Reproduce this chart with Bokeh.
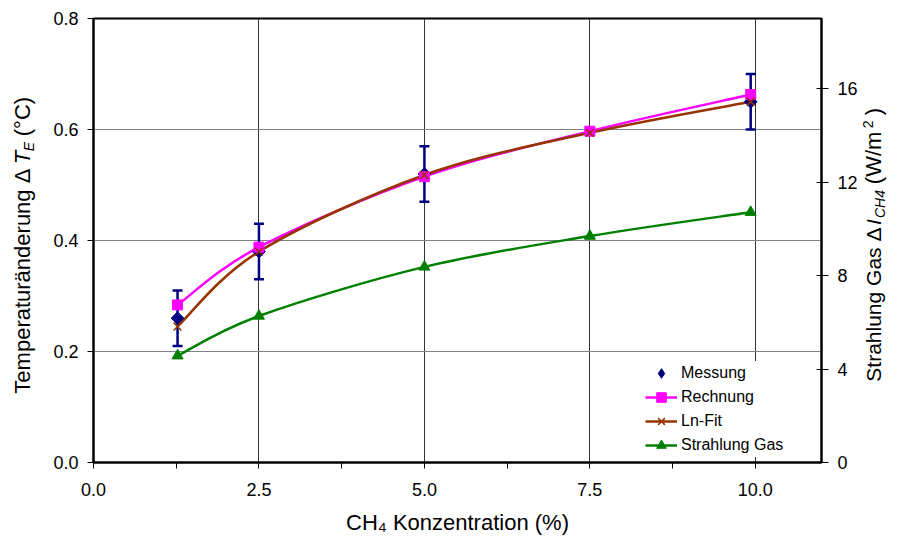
import numpy as np
from bokeh.plotting import figure
from bokeh.layouts import row
from bokeh.models import (Range1d, LinearAxis, FixedTicker, Whisker, TeeHead,
                          ColumnDataSource, Legend, LegendItem, Label,
                          NumeralTickFormatter)
from bokeh.embed import file_html
from bokeh.resources import INLINE

# ---------------- data ----------------
conc_messung = [1.27, 2.5, 5.0, 9.93]
dT_messung = [0.26, 0.38, 0.52, 0.65]
dT_err = [0.05, 0.05, 0.05, 0.05]

conc = [1.27, 2.5, 5.0, 7.5, 9.93]
dT_rechnung = [0.284, 0.388, 0.515, 0.597, 0.663]
dT_lnfit = [0.245, 0.380, 0.518, 0.594, 0.650]
strahlung_gas = [4.57, 6.27, 8.37, 9.69, 10.71]

x_ticks = [0.0, 2.5, 5.0, 7.5, 10.0]
x_minor = [1.25, 3.75, 6.25, 8.75]
y_ticks = [0.0, 0.2, 0.4, 0.6, 0.8]
y2_ticks = [0, 4, 8, 12, 16]

NAVY = "#000080"
MAGENTA = "#FF00FF"
BROWN = "#993300"
GREEN = "#008000"
FONT = "Liberation Sans"
H = 537
W_LEFT, W_MAIN, W_RIGHT = 50, 810, 35
FRAME_TOP, FRAME_BOTTOM = 18, 463


def smooth(xs, ys):
    """Cubic Bezier segments through the points (Excel-like smoothed line)."""
    n = len(xs)
    d = dict(x0=[], y0=[], x1=[], y1=[], cx0=[], cy0=[], cx1=[], cy1=[])
    for i in range(n - 1):
        im = i - 1 if i > 0 else i
        ip = i + 2 if i + 2 < n else i + 1
        d["x0"].append(xs[i]); d["y0"].append(ys[i])
        d["x1"].append(xs[i + 1]); d["y1"].append(ys[i + 1])
        d["cx0"].append(xs[i] + (xs[i + 1] - xs[im]) / 6.0)
        d["cy0"].append(ys[i] + (ys[i + 1] - ys[im]) / 6.0)
        d["cx1"].append(xs[i + 1] - (xs[ip] - xs[i]) / 6.0)
        d["cy1"].append(ys[i + 1] - (ys[ip] - ys[i]) / 6.0)
    return ColumnDataSource(d)


p = figure(width=W_MAIN, height=H,
           x_range=Range1d(0, 11), y_range=Range1d(0, 0.8),
           output_backend="svg", toolbar_location=None,
           min_border_left=41, min_border_right=37,
           min_border_top=FRAME_TOP, min_border_bottom=H - FRAME_BOTTOM)
p.extra_y_ranges = {"right": Range1d(0, 19)}

p.outline_line_color = "black"
p.outline_line_width = 2
p.background_fill_color = "white"
p.border_fill_color = "white"

# axes
xa = p.xaxis[0]
xa.ticker = FixedTicker(ticks=x_ticks, minor_ticks=x_minor)
xa.formatter = NumeralTickFormatter(format="0.0")
ya = p.yaxis[0]
ya.ticker = FixedTicker(ticks=y_ticks)
ya.formatter = NumeralTickFormatter(format="0.0")

ra = LinearAxis(y_range_name="right", ticker=FixedTicker(ticks=y2_ticks),
                formatter=NumeralTickFormatter(format="0"))
p.add_layout(ra, "right")

for ax in (xa, ya, ra):
    ax.axis_line_width = 2
    ax.axis_line_color = "black"
    ax.major_tick_line_color = "black"
    ax.major_tick_line_width = 1
    ax.major_label_text_font = FONT
    ax.major_label_text_font_size = "18px"
    ax.major_label_text_color = "black"
    ax.major_tick_in = 0
    ax.major_tick_out = 6

xa.minor_tick_line_color = "black"
xa.minor_tick_in = 0
xa.minor_tick_out = 6
xa.major_label_standoff = 14
xa.axis_label = "CH\u2084 Konzentration (%)"
xa.axis_label_text_font = FONT
xa.axis_label_text_font_size = "22px"
xa.axis_label_text_font_style = "normal"
xa.axis_label_text_color = "black"
xa.axis_label_standoff = 11
ya.minor_tick_line_color = None
ya.major_label_standoff = 9
ra.minor_tick_line_color = None
ra.major_tick_in = 5
ra.major_tick_out = 7
ra.major_label_standoff = 9

p.xgrid.grid_line_color = "#333333"
p.xgrid.grid_line_width = 1
p.ygrid.grid_line_color = "#808080"
p.ygrid.grid_line_width = 1

# error bars
src_m = ColumnDataSource(dict(
    x=conc_messung, y=dT_messung,
    upper=[v + e for v, e in zip(dT_messung, dT_err)],
    lower=[v - e for v, e in zip(dT_messung, dT_err)]))
wh = Whisker(base="x", upper="upper", lower="lower", source=src_m,
             dimension="height", line_color=NAVY, line_width=2.5,
             upper_head=TeeHead(size=10, line_color=NAVY, line_width=2.5),
             lower_head=TeeHead(size=10, line_color=NAVY, line_width=2.5),
             level="underlay")
p.add_layout(wh)

# smoothed lines
LW = 2.5
p.bezier(x0="x0", y0="y0", x1="x1", y1="y1", cx0="cx0", cy0="cy0",
         cx1="cx1", cy1="cy1", source=smooth(conc, strahlung_gas),
         line_color=GREEN, line_width=LW, y_range_name="right")
p.bezier(x0="x0", y0="y0", x1="x1", y1="y1", cx0="cx0", cy0="cy0",
         cx1="cx1", cy1="cy1", source=smooth(conc, dT_rechnung),
         line_color=MAGENTA, line_width=LW)
p.bezier(x0="x0", y0="y0", x1="x1", y1="y1", cx0="cx0", cy0="cy0",
         cx1="cx1", cy1="cy1", source=smooth(conc, dT_lnfit),
         line_color=BROWN, line_width=LW)

# legend proxies (a single NaN point: draws nothing in the plot)
nan = np.array([np.nan])
lp_r = p.line(x=nan, y=nan, line_color=MAGENTA, line_width=LW)
lp_l = p.line(x=nan, y=nan, line_color=BROWN, line_width=LW)
lp_g = p.line(x=nan, y=nan, line_color=GREEN, line_width=LW)
lp_m = p.scatter(x=nan, y=nan, marker="diamond", size=14,
                 fill_color=NAVY, line_color=NAVY)

# markers
m_g = p.scatter(conc, strahlung_gas, marker="triangle", size=11,
                fill_color=GREEN, line_color=GREEN, y_range_name="right")
m_m = p.scatter("x", "y", source=src_m, marker="square", angle=np.pi / 4,
                size=9, fill_color=NAVY, line_color=NAVY)
m_r = p.scatter(conc, dT_rechnung, marker="square", size=10,
                fill_color=MAGENTA, line_color=MAGENTA)
m_l = p.scatter(conc, dT_lnfit, marker="x", size=11,
                line_color=BROWN, line_width=1.5)

legend = Legend(items=[
    LegendItem(label="Messung", renderers=[lp_m]),
    LegendItem(label="Rechnung", renderers=[lp_r, m_r]),
    LegendItem(label="Ln-Fit", renderers=[lp_l, m_l]),
    LegendItem(label="Strahlung Gas", renderers=[lp_g, m_g]),
], location=(552, 5))
legend.label_text_font = FONT
legend.label_text_font_size = "16px"
legend.label_text_color = "black"
legend.glyph_width = 32
legend.glyph_height = 24
legend.label_height = 20
legend.spacing = 0
legend.padding = 4
legend.margin = 0
legend.label_standoff = 4
legend.border_line_color = None
legend.background_fill_color = "white"
legend.background_fill_alpha = 1.0
p.add_layout(legend)


# ---------------- side panels for the composed rotated titles ----------------
def side_fig(w):
    # frame is aligned with the main frame in the row: data y == page y
    f = figure(width=w, height=H, x_range=Range1d(0, w),
               y_range=Range1d(FRAME_BOTTOM, FRAME_TOP),
               output_backend="svg", toolbar_location=None,
               x_axis_type=None, y_axis_type=None,
               min_border_left=0, min_border_right=0,
               min_border_top=FRAME_TOP, min_border_bottom=H - FRAME_BOTTOM)
    f.grid.visible = False
    f.outline_line_color = None
    f.background_fill_color = "white"
    f.border_fill_color = "white"
    return f


def lab(f, text, px, py, size="21px", style="normal"):
    f.add_layout(Label(x=px, y=py, text=text, angle=np.pi / 2,
                       angle_units="rad", text_align="left",
                       text_baseline="middle", text_font=FONT,
                       text_font_size=size, text_font_style=style,
                       text_color="black"))


left = side_fig(W_LEFT)
lab(left, "Temperaturänderung  Δ", 22, 394, size="22px")
lab(left, "T", 22, 164, size="22px", style="italic")
lab(left, "E", 28, 151, size="14px", style="italic")
lab(left, "(°C)", 22, 136, size="22px")

right = side_fig(W_RIGHT)
lab(right, "Strahlung Gas  Δ", 13, 382)
lab(right, "I", 13, 225, style="italic")
lab(right, "CH4", 19, 218, size="14px", style="italic")
lab(right, "(W/m", 13, 184, size="22px")
lab(right, "2", 7, 128, size="14px")
lab(right, ")", 13, 115, size="22px")

layout = row(left, p, right)
open("out.html", "w").write(file_html(layout, INLINE))
